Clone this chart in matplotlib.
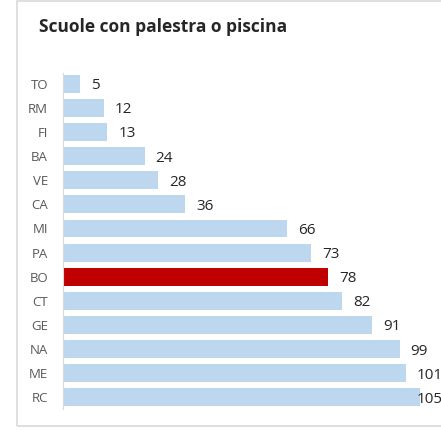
import matplotlib.pyplot as plt
from matplotlib.patches import Rectangle

# dati
province = ['TO', 'RM', 'FI', 'BA', 'VE', 'CA', 'MI', 'PA', 'BO', 'CT', 'GE', 'NA', 'ME', 'RC']
scuole = [5, 12, 13, 24, 28, 36, 66, 73, 78, 82, 91, 99, 101, 105]
evidenza = 'BO'

W, H = 441, 432
px_unit = 3.4   # pixel per scuola
fig = plt.figure(figsize=(W / 100, H / 100), dpi=100)
plt.rcParams['font.family'] = ['Open Sans', 'DejaVu Sans']

# cornice grigia del grafico (a destra esce dall'immagine)
fig.patches.append(Rectangle((17 / W, 1 - 426 / H), 1.2, 426 / H - 0.5 / H,
                             transform=fig.transFigure, fill=False,
                             edgecolor='#D9D9D9', linewidth=1.2))

ax = fig.add_axes([63 / W, 1 - 408.5 / H, (W - 63) / W, (408.5 - 72.5) / H])

colori = ['#C00000' if p == evidenza else '#BDD7EE' for p in province]
ax.barh(province, scuole, height=0.74, color=colori)
ax.set_xlim(0, (W - 63) / px_unit)
ax.set_ylim(13.46, -0.46)

# etichette: come in Excel non escono dall'area del grafico
lim_lab = (417 - 63) / px_unit
for i, v in enumerate(scuole):
    off = min(11, (lim_lab - v) * px_unit)
    ax.annotate(str(v), (v, i), xytext=(off, 0), textcoords='offset pixels',
                va='center_baseline', ha='left', fontsize=11, color='#262626',
                annotation_clip=False)

ax.xaxis.set_visible(False)
ax.tick_params(axis='y', length=0, pad=10.8, labelsize=9.5, labelcolor='#595959')
for lab in ax.get_yticklabels():
    lab.set_verticalalignment('center_baseline')
for s in ['top', 'right', 'bottom']:
    ax.spines[s].set_visible(False)
ax.spines['left'].set_color('#D9D9D9')

fig.text(39 / W, 1 - 27 / H, 'Scuole con palestra o piscina', ha='left', va='center',
         fontsize=12.5, fontweight='bold', color='#262626')

fig.savefig('out.png', dpi=100)
